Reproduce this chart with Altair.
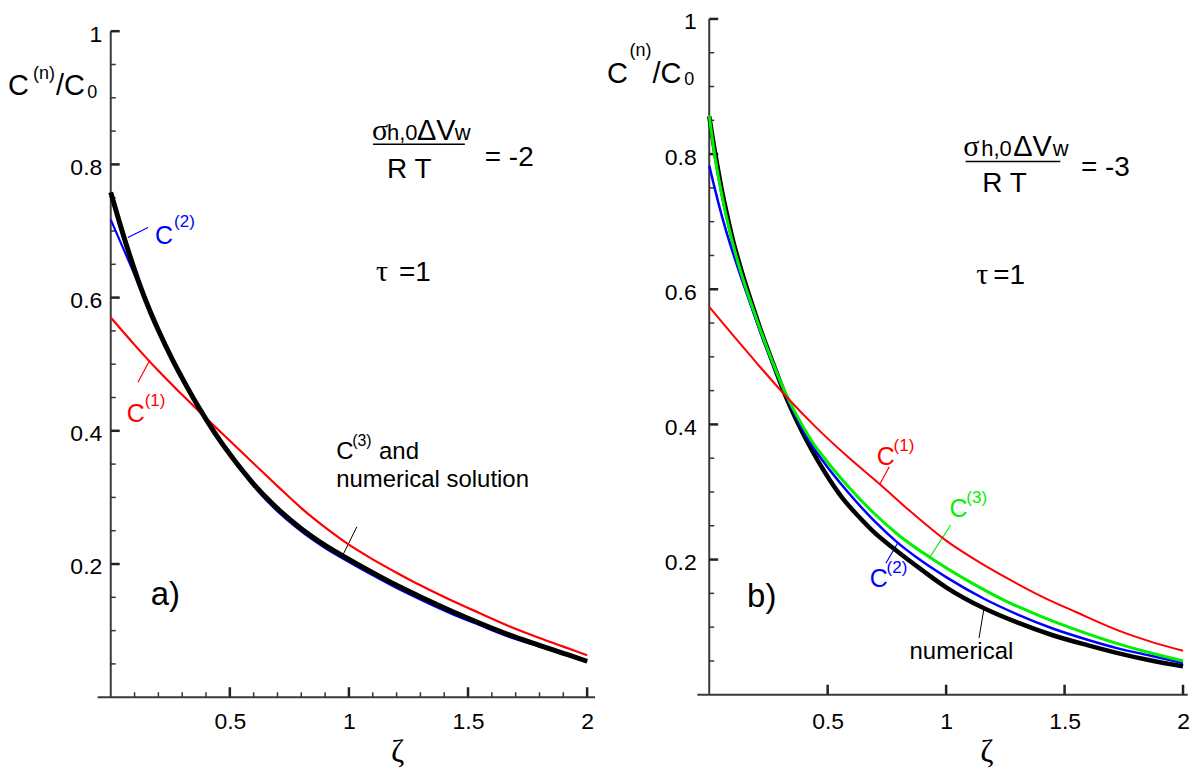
import altair as alt
import pandas as pd

SANS = "Liberation Sans"
SERIF = "Liberation Serif"
BLACK, RED, BLUE, GREEN = "#000000", "#ff0000", "#0000ff", "#00f000"
LABEL_SIZE = 23

# ---------------- tick values ----------------
X_MAJOR = [0.5, 1.0, 1.5, 2.0]
X_MINOR = [0.1, 0.2, 0.3, 0.4, 0.6, 0.7, 0.8, 0.9, 1.1, 1.2, 1.3, 1.4, 1.6, 1.7, 1.8, 1.9]
Y_MAJOR = [0.2, 0.4, 0.6, 0.8, 1.0]
Y_MINOR = [0.05, 0.1, 0.15, 0.25, 0.3, 0.35, 0.45, 0.5, 0.55, 0.65, 0.7, 0.75, 0.85, 0.9, 0.95]

# ---------------- panel a) curves ----------------
A_RED_X = [0.0, 0.1, 0.2, 0.3, 0.4, 0.5, 0.6, 0.7, 0.8, 0.9, 1.0, 1.1, 1.2, 1.3, 1.42, 1.55, 1.67, 1.8, 1.9, 2.0]
A_RED_Y = [0.570, 0.529, 0.490, 0.454, 0.419, 0.385, 0.351, 0.317, 0.284, 0.255, 0.229, 0.207, 0.187, 0.168, 0.147, 0.126, 0.107, 0.089, 0.076, 0.063]

A_BLUE_X = [0.0, 0.04, 0.08, 0.12, 0.16, 0.2, 0.26, 0.32, 0.373, 0.44, 0.512, 0.6, 0.68, 0.8, 0.9, 1.0, 1.1, 1.2, 1.31, 1.42, 1.55, 1.67, 1.8, 1.9, 2.0]
A_BLUE_Y = [0.717, 0.684, 0.651, 0.617, 0.583, 0.551, 0.507, 0.468, 0.435, 0.397, 0.360, 0.317, 0.286, 0.249, 0.224, 0.203, 0.183, 0.164, 0.145, 0.127, 0.108, 0.091, 0.076, 0.065, 0.053]

A_BLACK_X = [0.0, 0.04, 0.08, 0.12, 0.16, 0.2, 0.26, 0.32, 0.373, 0.44, 0.512, 0.6, 0.68, 0.8, 0.9, 1.0, 1.1, 1.2, 1.31, 1.42, 1.55, 1.67, 1.8, 1.9, 2.0]
A_BLACK_Y = [0.758, 0.709, 0.663, 0.621, 0.584, 0.551, 0.506, 0.466, 0.433, 0.395, 0.359, 0.320, 0.290, 0.253, 0.228, 0.207, 0.187, 0.168, 0.149, 0.131, 0.111, 0.094, 0.078, 0.066, 0.054]

# ---------------- panel b) curves ----------------
B_RED_X = [0.0, 0.1, 0.2, 0.326, 0.45, 0.585, 0.725, 0.85, 1.0, 1.15, 1.286, 1.4, 1.55, 1.72, 1.86, 2.0]
B_RED_Y = [0.574, 0.532, 0.491, 0.441, 0.396, 0.352, 0.310, 0.271, 0.228, 0.194, 0.167, 0.146, 0.122, 0.096, 0.079, 0.065]

B_BLACK_X = [0.0, 0.02, 0.04, 0.06, 0.08, 0.1, 0.14, 0.18, 0.22, 0.27, 0.32, 0.37, 0.43, 0.49, 0.56, 0.63, 0.7, 0.78, 0.9, 1.0, 1.16, 1.3, 1.45, 1.6, 1.72, 1.86, 2.0]
B_BLACK_Y = [0.856, 0.812, 0.772, 0.735, 0.703, 0.673, 0.623, 0.579, 0.537, 0.490, 0.444, 0.405, 0.364, 0.328, 0.292, 0.264, 0.239, 0.216, 0.184, 0.159, 0.128, 0.107, 0.088, 0.073, 0.062, 0.051, 0.042]

B_BLUE_X = [0.0, 0.02, 0.04, 0.07, 0.1, 0.14, 0.18, 0.22, 0.27, 0.32, 0.37, 0.43, 0.49, 0.585, 0.7, 0.795, 0.9, 1.0, 1.16, 1.3, 1.45, 1.6, 1.72, 1.86, 2.0]
B_BLUE_Y = [0.783, 0.754, 0.726, 0.688, 0.654, 0.612, 0.572, 0.533, 0.488, 0.446, 0.409, 0.371, 0.341, 0.300, 0.256, 0.225, 0.197, 0.174, 0.142, 0.119, 0.098, 0.081, 0.069, 0.058, 0.047]

B_GREEN_X = [0.0, 0.02, 0.04, 0.06, 0.08, 0.1, 0.14, 0.18, 0.22, 0.27, 0.32, 0.37, 0.43, 0.5, 0.6, 0.7, 0.8, 0.95, 1.1, 1.25, 1.4, 1.55, 1.72, 1.86, 2.0]
B_GREEN_Y = [0.857, 0.806, 0.764, 0.728, 0.696, 0.667, 0.618, 0.576, 0.536, 0.490, 0.448, 0.413, 0.377, 0.344, 0.303, 0.267, 0.236, 0.199, 0.167, 0.139, 0.116, 0.096, 0.076, 0.062, 0.050]

# ---------------- annotations (text, x, y, font size, colour) ----------------
A_TEXT_SANS = [
    ("C", -0.4313, 0.9046, 29, BLACK), ("(n)", -0.3266, 0.9278, 18, BLACK),
    ("/C", -0.2303, 0.9046, 29, BLACK), ("0", -0.0984, 0.9001, 18, BLACK),
    ("C", 0.1863, 0.6798, 25, BLUE), ("(2)", 0.2659, 0.7062, 17, BLUE),
    ("C", 0.0670, 0.4131, 25, RED), ("(1)", 0.1424, 0.4371, 17, RED),
    ("C", 0.9464, 0.3577, 24, BLACK), ("(3)", 1.0134, 0.3771, 16, BLACK),
    ("and", 1.1265, 0.3577, 24, BLACK), ("numerical solution", 0.9464, 0.3157, 24, BLACK),
    ("h,0", 1.1600, 0.8371, 22, BLACK), ("ΔV", 1.2856, 0.8371, 29, BLACK),
    ("w", 1.4447, 0.8371, 22, BLACK), ("R T", 1.1600, 0.7802, 28, BLACK),
    ("= -2", 1.5704, 0.7982, 28, BLACK), ("=1", 1.2102, 0.6254, 28, BLACK),
    ("a)", 0.1675, 0.1389, 33, BLACK),
]
A_TEXT_SERIF = [
    ("σ", 1.0972, 0.8371, 30, BLACK), ("τ", 1.1139, 0.6254, 30, BLACK),
    ("ζ", 1.1767, -0.0978, 32, BLACK),
]
A_LEADERS = [
    (0.0724, 0.6903, 0.1562, 0.7053, BLUE, 1.2),
    (0.1143, 0.4730, 0.1633, 0.5055, RED, 1.2),
    (1.0331, 0.2558, 0.9728, 0.2123, BLACK, 1.0),
    (1.1013, 0.8301, 1.4866, 0.8301, BLACK, 1.5),
]

B_TEXT_SANS = [
    ("C", -0.4312, 0.9055, 29, BLACK), ("(n)", -0.3366, 0.9454, 18, BLACK),
    ("/C", -0.2398, 0.9055, 29, BLACK), ("0", -0.1052, 0.9026, 18, BLACK),
    ("C", 0.7068, 0.3402, 25, RED), ("(1)", 0.7783, 0.3601, 17, RED),
    ("C", 1.0139, 0.2635, 25, GREEN), ("(3)", 1.0854, 0.2834, 17, GREEN),
    ("C", 0.6773, 0.1601, 25, BLUE), ("(2)", 0.7488, 0.1801, 17, BLUE),
    ("numerical", 0.8456, 0.0524, 24, BLACK),
    ("h,0", 1.1485, 0.7973, 22, BLACK), ("ΔV", 1.2831, 0.7973, 29, BLACK),
    ("w", 1.4505, 0.7973, 22, BLACK), ("R T", 1.1527, 0.7432, 28, BLACK),
    ("= -3", 1.5692, 0.7678, 28, BLACK), ("=1", 1.1990, 0.6078, 28, BLACK),
    ("b)", 0.1599, 0.1292, 33, BLACK),
]
B_TEXT_SERIF = [
    ("σ", 1.0728, 0.7973, 30, BLACK), ("τ", 1.1275, 0.6078, 30, BLACK),
    ("ζ", 1.1443, -0.0996, 32, BLACK),
]
B_LEADERS = [
    (0.7602, 0.3373, 0.7181, 0.3103, RED, 1.2),
    (1.0193, 0.2512, 0.9285, 0.2019, GREEN, 1.2),
    (0.7459, 0.1945, 0.7951, 0.2241, BLUE, 1.2),
    (1.1388, 0.0838, 1.1599, 0.1281, BLACK, 1.0),
    (1.0825, 0.7889, 1.4821, 0.7889, BLACK, 1.5),
]

HEIGHT = 680


def make_panel(curves, text_sans, text_serif, leaders, ydom, width, ylabpad,
               x_axis_ext, minor_x):
    xscale = alt.Scale(domain=[0, 2], nice=False, zero=False)
    yscale = alt.Scale(domain=ydom, nice=False, zero=False)
    xax = alt.Axis(values=X_MAJOR, format="~g", domain=False, ticks=False, tickSize=0,
                   grid=False, title=None, labelPadding=13, labelFont=SANS,
                   labelFontSize=LABEL_SIZE, labelColor="#000", labelFlush=False,
                   labelOverlap=False)
    yax = alt.Axis(values=Y_MAJOR, format="~g", domain=False, ticks=False, tickSize=0,
                   grid=False, title=None, labelPadding=ylabpad, labelFont=SANS,
                   labelFontSize=LABEL_SIZE, labelColor="#000", labelFlush=False,
                   labelOverlap=False, labelBaseline="top", labelOffset=-8)
    X = alt.X("x:Q", scale=xscale, axis=xax)
    Y = alt.Y("y:Q", scale=yscale, axis=yax)

    px_x = 2.0 / width                        # data units per pixel (x)
    px_y = (ydom[1] - ydom[0]) / HEIGHT       # data units per pixel (y)

    rules = []
    axis_col = "#3a3a3a"
    rules.append((0.0, 0.0, 0.0, 1.0, axis_col, 2.0))
    rules.append((x_axis_ext[0], 0.0, x_axis_ext[1], 0.0, axis_col, 2.0))
    for v in Y_MAJOR:
        rules.append((0.0, v, 9 * px_x, v, "#222222", 2.5))
    for v in Y_MINOR:
        rules.append((0.0, v, 5 * px_x, v, "#333333", 1.5))
    for v in X_MAJOR:
        rules.append((v, 0.0, v, 10 * px_y, "#222222", 2.5))
    if minor_x:
        for v in X_MINOR:
            rules.append((v, 0.0, v, 5 * px_y, "#333333", 1.5))
    rules += leaders
    rdf = pd.DataFrame(rules, columns=["x", "y", "x2", "y2", "c", "w"])

    layers = [
        alt.Chart(rdf).mark_rule().encode(
            x=X, y=Y, x2="x2:Q", y2="y2:Q",
            color=alt.Color("c:N", scale=None),
            strokeWidth=alt.StrokeWidth("w:Q", scale=None),
        )
    ]
    for xs, ys, col, w in curves:
        df = pd.DataFrame({"x": xs, "y": ys})
        layers.append(
            alt.Chart(df).mark_line(color=col, strokeWidth=w, interpolate="monotone")
            .encode(x=X, y=Y)
        )
    for rows, fam in ((text_sans, SANS), (text_serif, SERIF)):
        tdf = pd.DataFrame(rows, columns=["t", "x", "y", "s", "c"])
        layers.append(
            alt.Chart(tdf).mark_text(align="left", baseline="alphabetic", font=fam)
            .encode(x=X, y=Y, text="t:N",
                    size=alt.Size("s:Q", scale=None),
                    color=alt.Color("c:N", scale=None))
        )
    return alt.layer(*layers).properties(width=width, height=HEIGHT)


panel_a = make_panel(
    [(A_RED_X, A_RED_Y, RED, 2.2), (A_BLUE_X, A_BLUE_Y, BLUE, 2.2),
     (A_BLACK_X, A_BLACK_Y, BLACK, 5.0)],
    A_TEXT_SANS, A_TEXT_SERIF, A_LEADERS,
    ydom=[0.0, 1.0184], width=477.6, ylabpad=9, x_axis_ext=(-0.055, 2.033), minor_x=True,
)
panel_b = make_panel(
    [(B_BLACK_X, B_BLACK_Y, BLACK, 4.5), (B_BLUE_X, B_BLUE_Y, BLUE, 2.5),
     (B_GREEN_X, B_GREEN_Y, GREEN, 3.0), (B_RED_X, B_RED_Y, RED, 2.0)],
    B_TEXT_SANS, B_TEXT_SERIF, B_LEADERS,
    ydom=[-0.0037, 1.0], width=475.0, ylabpad=13, x_axis_ext=(-0.05, 2.02), minor_x=False,
)

chart = (
    alt.hconcat(panel_a, panel_b, spacing=122, bounds="flush")
    .properties(padding={"left": 0, "top": 2, "right": 0, "bottom": 0}, background="white")
    .configure_view(stroke=None)
)

chart.save("out.html", embed_options={"renderer": "svg", "actions": False})
